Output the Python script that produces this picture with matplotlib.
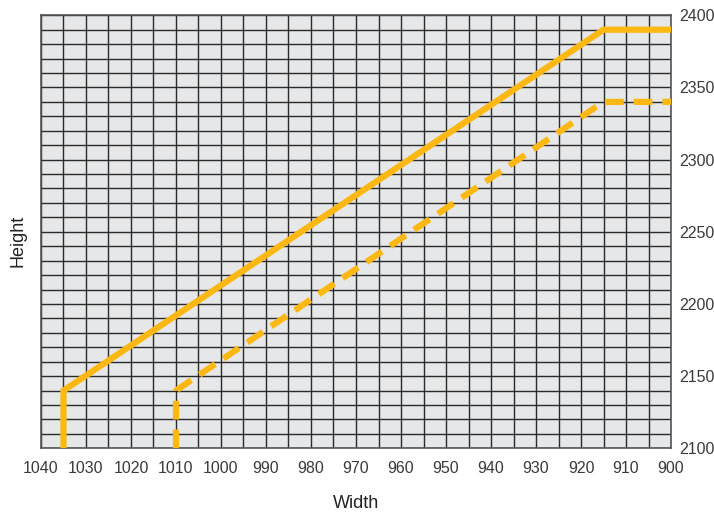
import numpy as np
import matplotlib
matplotlib.use("Agg")
import matplotlib.pyplot as plt

# data
solid_w = [1035, 1035, 915, 900]
solid_h = [2100, 2140, 2390, 2390]
dash_w = [1010, 1010, 915, 900]
dash_h = [2100, 2140, 2340, 2340]

x_ticks = [1040, 1030, 1020, 1010, 1000, 990, 980, 970, 960, 950, 940, 930, 920, 910, 900]
y_ticks = [2100, 2150, 2200, 2250, 2300, 2350, 2400]

plt.rcParams['font.family'] = ['Liberation Sans', 'DejaVu Sans']

fig = plt.figure(figsize=(7.14, 5.13), dpi=100)
ax = fig.add_axes([0.0574, 0.1261, 0.8824, 0.8441])
ax.set_facecolor("#e6e7e8")

# grid every 5 in width, every 10 in height
for gx in np.arange(900, 1041, 5):
    ax.axvline(gx, color="#2a2a2a", lw=1.0, zorder=1)
for gy in np.arange(2100, 2401, 10):
    ax.axhline(gy, color="#2a2a2a", lw=1.0, zorder=1)

gold = "#fdb813"
ax.plot(solid_w, solid_h, color=gold, lw=4.5, solid_capstyle="butt",
        solid_joinstyle="miter", zorder=3)
ax.plot(dash_w, dash_h, color=gold, lw=4.5, linestyle=(0, (3.0, 1.6)),
        dash_capstyle="butt", zorder=3)

ax.set_xlim(1040, 900)
ax.set_ylim(2100, 2400)
ax.set_xticks(x_ticks)
ax.set_yticks(y_ticks)
ax.yaxis.tick_right()
ax.tick_params(axis="x", length=0, labelsize=11.5, labelcolor="#3a3a3a", pad=9)
ax.tick_params(axis="y", length=0, labelsize=11.5, labelcolor="#3a3a3a", pad=6)
for s in ax.spines.values():
    s.set_color("#555555")
    s.set_linewidth(1.2)

ax.set_xlabel("Width", fontsize=13, color="#222222", labelpad=14)
fig.text(0.025, 0.53, "Height", rotation=90, fontsize=13, color="#222222",
         ha="center", va="center")

fig.savefig("out.png", dpi=100)
